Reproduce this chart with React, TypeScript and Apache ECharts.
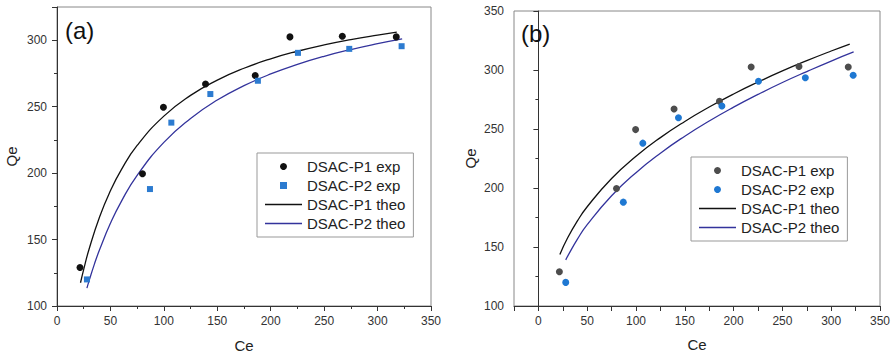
import React, { useEffect, useRef } from "react";
import * as echarts from "echarts";

// Experimental points (same data in both panels)
const ceP1 = [21.5, 80, 99.6, 139, 185.5, 218, 267, 317.5];
const qeP1 = [129, 199.5, 249.5, 267, 273.5, 302.5, 303, 302.5];
const ceP2 = [28, 87, 107, 143.5, 188, 225.5, 273.5, 322.5];
const qeP2 = [120, 188, 238, 259.5, 269.5, 290.5, 293.5, 295.5];

// Panel (a) theoretical curves
const ceTheoA1 = [22, 25, 30, 40, 50, 60, 75, 100, 125, 150, 175, 200, 225, 250, 275, 300, 318];
const qeTheoA1 = [117.5, 127.6, 142.7, 167.3, 186.7, 202.3, 220.8, 242.9, 258.5, 270.0, 278.9, 286.0, 291.7, 296.5, 300.5, 303.9, 306.1];
const ceTheoA2 = [28, 30, 35, 40, 50, 60, 75, 100, 125, 150, 175, 200, 225, 250, 275, 300, 323];
const qeTheoA2 = [113.5, 118.9, 131.5, 142.7, 162.2, 178.4, 198.3, 223.1, 241.1, 255.0, 265.8, 274.6, 281.8, 287.9, 293.0, 297.4, 301.0];

// Panel (b) theoretical curves
const ceTheoB1 = [22, 30, 40, 50, 75, 100, 125, 150, 175, 200, 225, 250, 275, 300, 319];
const qeTheoB1 = [143.7, 157.8, 172.1, 184.1, 208.1, 226.9, 242.7, 256.4, 268.6, 279.7, 289.8, 299.2, 307.9, 316.1, 322.0];
const ceTheoB2 = [28, 30, 40, 50, 75, 100, 125, 150, 175, 200, 225, 250, 275, 300, 323];
const qeTheoB2 = [139.1, 142.3, 156.7, 168.9, 193.4, 213.0, 229.5, 243.9, 256.8, 268.5, 279.3, 289.4, 298.7, 307.6, 315.3];

const legendNames = ["DSAC-P1 exp", "DSAC-P2 exp", "DSAC-P1 theo", "DSAC-P2 theo"];

const zip = (xs: number[], ys: number[]) => xs.map((x, i) => [x, ys[i]]);

const FONT = "'Liberation Sans', Arial, sans-serif";
const BLACK = "#111111";
const GRAY = "#4d4d4d";
const BLUE_A = "#2c7bd0";
const BLUE_B = "#1f78d2";
const NAVY = "#33339c";

const SQUARE_ICON = "path://M0,0H10V10H0Z";
const LINE_ICON = "path://M0,0H37V1.3H0Z";

export default function App() {
  const ref = useRef<HTMLDivElement>(null);

  useEffect(() => {
    if (!ref.current) return;
    const chart = echarts.init(ref.current, null, { renderer: "svg" });

    const axisLine = { show: true, lineStyle: { color: "#333", width: 1 } };
    const axisLabel = { color: "#333", fontSize: 12, fontFamily: FONT };
    const nameStyle = { color: "#222", fontSize: 15, fontFamily: FONT };

    const legendBase = {
      orient: "vertical" as const,
      borderColor: "#999",
      borderWidth: 1,
      padding: [6, 8, 6, 8],
      itemWidth: 37,
      itemHeight: 7,
      itemGap: 4,
      backgroundColor: "#fff",
      textStyle: { fontSize: 15, color: "#222", fontFamily: FONT },
    };

    chart.setOption({
      animation: false,
      textStyle: { fontFamily: FONT },
      title: [
        { text: "(a)", left: 60, top: 13, textStyle: { fontSize: 24, fontWeight: "normal", color: "#111", fontFamily: FONT } },
        { text: "(b)", left: 516, top: 16, textStyle: { fontSize: 24, fontWeight: "normal", color: "#111", fontFamily: FONT } },
      ],
      grid: [
        { left: 57, top: 7, width: 374, height: 301, show: true, borderColor: "#888", borderWidth: 1 },
        { left: 514, top: 11, width: 366, height: 295, show: true, borderColor: "#888", borderWidth: 1 },
      ],
      xAxis: [
        {
          type: "value", gridIndex: 0, min: 0, max: 350, interval: 50,
          name: "Ce", nameLocation: "middle", nameGap: 32, nameTextStyle: nameStyle,
          axisLine, axisLabel: { ...axisLabel, margin: 9 },
          axisTick: { show: true, length: 5, lineStyle: { color: "#333" } },
          minorTick: { show: true, splitNumber: 2, length: 3, lineStyle: { color: "#333" } },
          splitLine: { show: false },
        },
        {
          type: "value", gridIndex: 1, min: -25, max: 350, interval: 25,
          name: "Ce", nameLocation: "middle", nameGap: 31, nameTextStyle: nameStyle,
          axisLine,
          axisLabel: { ...axisLabel, margin: 9, formatter: (v: number) => (v % 50 === 0 ? String(v) : "") },
          axisTick: { show: true, length: 5, lineStyle: { color: "#333" } },
          splitLine: { show: false },
        },
      ],
      yAxis: [
        {
          type: "value", gridIndex: 0, min: 100, max: 325, interval: 50,
          name: "Qe", nameLocation: "middle", nameGap: 38, nameTextStyle: nameStyle,
          axisLine, axisLabel: { ...axisLabel, margin: 10, showMaxLabel: false },
          axisTick: { show: true, length: 5, lineStyle: { color: "#333" } },
          minorTick: { show: true, splitNumber: 2, length: 3, lineStyle: { color: "#333" } },
          splitLine: { show: false },
        },
        {
          type: "value", gridIndex: 1, min: 100, max: 350, interval: 50,
          name: "Qe", nameLocation: "middle", nameGap: 36, nameTextStyle: nameStyle,
          axisLine, axisLabel: { ...axisLabel, margin: 10 },
          axisTick: { show: true, length: 5, lineStyle: { color: "#333" } },
          minorTick: { show: true, splitNumber: 2, length: 3, lineStyle: { color: "#333" } },
          splitLine: { show: false },
        },
      ],
      legend: [
        {
          ...legendBase, left: 257, top: 153,
          data: [
            { name: legendNames[0], icon: "circle", itemStyle: { color: BLACK } },
            { name: legendNames[1], icon: SQUARE_ICON, itemStyle: { color: BLUE_A } },
            { name: legendNames[2], icon: LINE_ICON, itemStyle: { color: BLACK } },
            { name: legendNames[3], icon: LINE_ICON, itemStyle: { color: NAVY } },
          ],
        },
        {
          ...legendBase, left: 691, top: 157,
          data: [
            { name: legendNames[0], icon: "circle", itemStyle: { color: GRAY } },
            { name: legendNames[1], icon: "circle", itemStyle: { color: BLUE_B } },
            { name: legendNames[2], icon: LINE_ICON, itemStyle: { color: BLACK } },
            { name: legendNames[3], icon: LINE_ICON, itemStyle: { color: NAVY } },
          ],
        },
      ],
      series: [
        // Panel (a)
        {
          name: legendNames[2], type: "line", xAxisIndex: 0, yAxisIndex: 0, smooth: true, symbol: "none",
          data: zip(ceTheoA1, qeTheoA1), lineStyle: { color: BLACK, width: 1.3 }, itemStyle: { color: BLACK }, z: 2,
        },
        {
          name: legendNames[3], type: "line", xAxisIndex: 0, yAxisIndex: 0, smooth: true, symbol: "none",
          data: zip(ceTheoA2, qeTheoA2), lineStyle: { color: NAVY, width: 1.3 }, itemStyle: { color: NAVY }, z: 2,
        },
        {
          name: legendNames[0], type: "scatter", xAxisIndex: 0, yAxisIndex: 0, symbol: "circle", symbolSize: 7,
          data: zip(ceP1, qeP1), itemStyle: { color: BLACK, opacity: 1 }, z: 3,
        },
        {
          name: legendNames[1], type: "scatter", xAxisIndex: 0, yAxisIndex: 0, symbol: "rect", symbolSize: 6,
          data: zip(ceP2, qeP2), itemStyle: { color: BLUE_A, opacity: 1 }, z: 3,
        },
        // Panel (b)
        {
          name: legendNames[2], type: "line", xAxisIndex: 1, yAxisIndex: 1, smooth: true, symbol: "none",
          data: zip(ceTheoB1, qeTheoB1), lineStyle: { color: BLACK, width: 1.3 }, itemStyle: { color: BLACK }, z: 2,
        },
        {
          name: legendNames[3], type: "line", xAxisIndex: 1, yAxisIndex: 1, smooth: true, symbol: "none",
          data: zip(ceTheoB2, qeTheoB2), lineStyle: { color: NAVY, width: 1.3 }, itemStyle: { color: NAVY }, z: 2,
        },
        {
          name: legendNames[0], type: "scatter", xAxisIndex: 1, yAxisIndex: 1, symbol: "circle", symbolSize: 7,
          data: zip(ceP1, qeP1), itemStyle: { color: GRAY, opacity: 1 }, z: 3,
        },
        {
          name: legendNames[1], type: "scatter", xAxisIndex: 1, yAxisIndex: 1, symbol: "circle", symbolSize: 7,
          data: zip(ceP2, qeP2), itemStyle: { color: BLUE_B, opacity: 1 }, z: 3,
        },
      ],
    });

    return () => chart.dispose();
  }, []);

  return (
    <div
      ref={ref}
      style={{ position: "fixed", left: 0, top: 0, width: 894, height: 358, background: "#fff" }}
    />
  );
}
